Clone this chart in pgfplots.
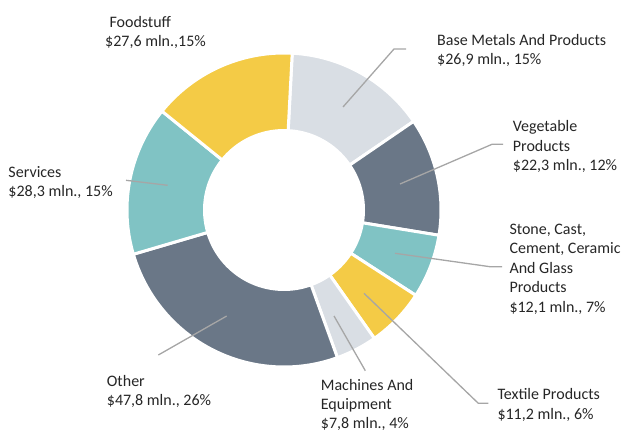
\documentclass[border=0pt]{standalone}
\usepackage{pgfplots}
\pgfplotsset{compat=1.18}
\usepackage{fontspec}
\setmainfont{Carlito}
\definecolor{cyel}{HTML}{F4CB46}
\definecolor{cgry}{HTML}{D9DEE4}
\definecolor{cslt}{HTML}{6A7787}
\definecolor{ctea}{HTML}{80C3C4}
\definecolor{cline}{HTML}{A6A6A6}
\definecolor{ctxt}{HTML}{262626}
% data (mln. $), clockwise from the top
\def\vBase{26.9}
\def\vVeg{22.3}
\def\vStone{12.1}
\def\vText{11.2}
\def\vMach{7.8}
\def\vOther{47.8}
\def\vServ{28.3}
\def\vFood{27.6}
\pgfmathsetmacro\tot{\vBase+\vVeg+\vStone+\vText+\vMach+\vOther+\vServ+\vFood}
\pgfmathsetmacro\cA{0}
\pgfmathsetmacro\cB{\cA+\vBase}
\pgfmathsetmacro\cC{\cB+\vVeg}
\pgfmathsetmacro\cD{\cC+\vStone}
\pgfmathsetmacro\cE{\cD+\vText}
\pgfmathsetmacro\cF{\cE+\vMach}
\pgfmathsetmacro\cG{\cF+\vOther}
\pgfmathsetmacro\cH{\cG+\vServ}
\pgfmathsetmacro\cI{\cH+\vFood}
\def\startang{-87}
\pgfmathsetmacro\aA{\startang+(\cA/\tot)*360}
\pgfmathsetmacro\aB{\startang+(\cB/\tot)*360}
\pgfmathsetmacro\aC{\startang+(\cC/\tot)*360}
\pgfmathsetmacro\aD{\startang+(\cD/\tot)*360}
\pgfmathsetmacro\aE{\startang+(\cE/\tot)*360}
\pgfmathsetmacro\aF{\startang+(\cF/\tot)*360}
\pgfmathsetmacro\aG{\startang+(\cG/\tot)*360}
\pgfmathsetmacro\aH{\startang+(\cH/\tot)*360}
\pgfmathsetmacro\aI{\startang+(\cI/\tot)*360}
\def\cx{284}
\def\cy{210}
\def\Ro{157}
\def\Ri{81}
\newcommand\donutwedge[3]{%
  \addplot[fill=#3, draw=white, line width=3bp, line join=miter, domain=#1:#2, samples=60, variable=\t]
    ({\cx+\Ro*cos(\t)},{\cy+\Ro*sin(\t)}) -- (axis cs:\cx,\cy) -- cycle;}
\newcommand\lab[3]{\node[anchor=base west, inner sep=0pt, font=\fontsize{16bp}{19.5bp}\selectfont, text=ctxt] at (axis cs:#1,#2) {#3};}
\begin{document}
\begin{tikzpicture}
\begin{axis}[width=623bp, height=432bp, scale only axis, xmin=0, xmax=623, ymin=0, ymax=432, y dir=reverse, hide axis, clip=false]
\donutwedge{\aA}{\aB}{cgry}
\donutwedge{\aB}{\aC}{cslt}
\donutwedge{\aC}{\aD}{ctea}
\donutwedge{\aD}{\aE}{cyel}
\donutwedge{\aE}{\aF}{cgry}
\donutwedge{\aF}{\aG}{cslt}
\donutwedge{\aG}{\aH}{ctea}
\donutwedge{\aH}{\aI}{cyel}
\addplot[fill=white, draw=none, domain=0:360, samples=120, variable=\t]
  ({\cx+\Ri*cos(\t)},{\cy+\Ri*sin(\t)}) -- cycle;
% leader lines
\draw[cline, line width=1.3bp] (axis cs:343,107) -- (axis cs:394,49) -- (axis cs:406,49);
\draw[cline, line width=1.3bp] (axis cs:400,184) -- (axis cs:492,144.3) -- (axis cs:503,144.3);
\draw[cline, line width=1.3bp] (axis cs:395,253.3) -- (axis cs:490,266.7) -- (axis cs:502,266.7);
\draw[cline, line width=1.3bp] (axis cs:364,293.3) -- (axis cs:478.3,403.3) -- (axis cs:488.3,403.3);
\draw[cline, line width=1.3bp] (axis cs:334,316) -- (axis cs:365.3,370.7);
\draw[cline, line width=1.3bp] (axis cs:226.7,316) -- (axis cs:158.3,355);
\draw[cline, line width=1.3bp] (axis cs:126,180.3) -- (axis cs:167.7,185.3);
% labels
\lab{109.3}{27.7}{Foodstuff}
\lab{105}{46.7}{\$27,6 mln.,15\%}
\lab{8.3}{177.7}{Services}
\lab{8.3}{196.7}{\$28,3 mln., 15\%}
\lab{106.7}{386.7}{Other}
\lab{106.7}{405.7}{\$47,8 mln., 26\%}
\lab{320.7}{390}{Machines And}
\lab{320.7}{409.5}{Equipment}
\lab{320.7}{428.5}{\$7,8 mln., 4\%}
\lab{497.3}{399.3}{Textile Products}
\lab{497.3}{419.3}{\$11,2 mln., 6\%}
\lab{509.3}{234}{Stone, Cast,}
\lab{509.3}{253.5}{Cement, Ceramic}
\lab{509.3}{273}{And Glass}
\lab{509.3}{292.5}{Products}
\lab{509.3}{312}{\$12,1 mln., 7\%}
\lab{512.7}{131.7}{Vegetable}
\lab{512.7}{151}{Products}
\lab{512.7}{170.7}{\$22,3 mln., 12\%}
\lab{437}{46}{Base Metals And Products}
\lab{437}{65}{\$26,9 mln., 15\%}
\end{axis}
\pgfresetboundingbox
\path[use as bounding box] (current axis.south west) rectangle (current axis.north east);
\end{tikzpicture}
\end{document}
